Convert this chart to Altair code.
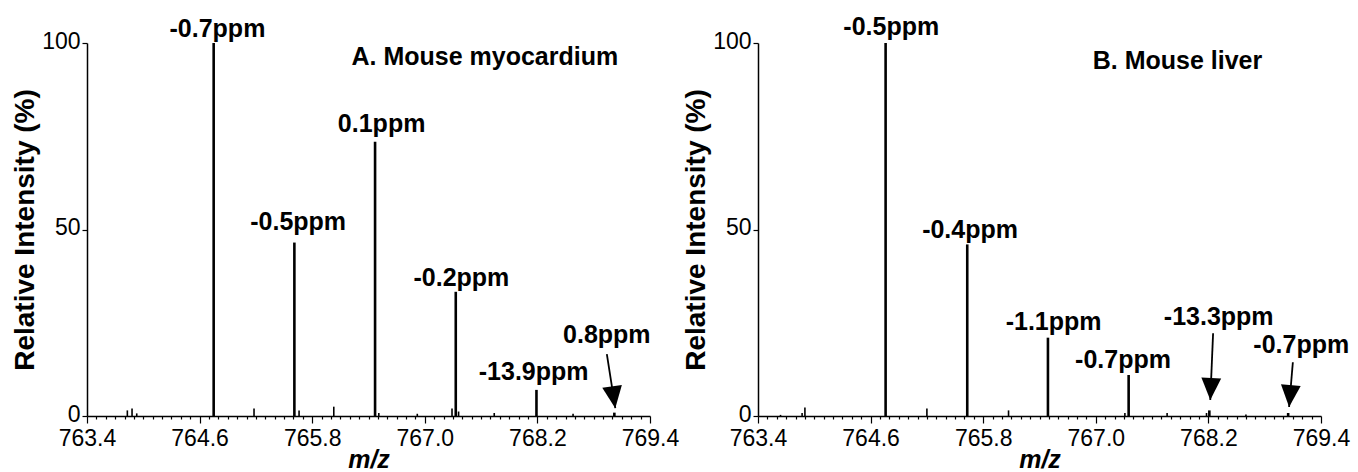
import altair as alt
import pandas as pd

# ---------------- Panel A: Mouse myocardium ----------------
a_peak_mz = [764.75, 765.61, 766.47, 767.33, 768.19, 769.02]
a_peak_int = [100.0, 46.5, 73.5, 33.3, 7.0, 0.9]
a_minor_mz = [763.83, 763.88, 763.93, 765.18, 765.66, 766.03, 766.51, 766.92, 767.29, 767.36, 767.74, 768.58]
a_minor_int = [1.5, 2.0, 0.7, 2.0, 1.5, 2.5, 0.8, 0.6, 2.0, 1.2, 0.8, 0.6]
a_label_text = ["-0.7ppm", "-0.5ppm", "0.1ppm", "-0.2ppm", "-13.9ppm", "0.8ppm"]
a_label_mz = [764.79, 765.65, 766.54, 767.39, 768.16, 768.94]
a_label_y = [103.8, 52.1, 78.4, 36.9, 11.7, 21.7]
a_title = ["A. Mouse myocardium"]
a_title_mz = [767.64]
a_title_y = [96.2]
a_arrow_mz = [768.94]
a_arrow_y = [16.6]
a_arrow_mz2 = [769.03]
a_arrow_y2 = [2.1]
a_arrow_angle = [351.6]

# ---------------- Panel B: Mouse liver ----------------
b_peak_mz = [764.76, 765.63, 766.49, 767.35, 768.21, 769.05]
b_peak_int = [100.0, 46.0, 21.0, 11.0, 1.5, 0.8]
b_minor_mz = [763.64, 763.87, 763.90, 765.20, 766.07, 767.31, 767.76, 768.18, 768.60]
b_minor_int = [0.3, 0.8, 2.3, 2.0, 1.5, 0.8, 0.8, 0.8, 0.4]
b_label_text = ["-0.5ppm", "-0.4ppm", "-1.1ppm", "-0.7ppm", "-13.3ppm", "-0.7ppm"]
b_label_mz = [764.82, 765.66, 766.55, 767.29, 768.31, 769.19]
b_label_y = [104.2, 50.0, 25.1, 15.0, 26.5, 19.0]
b_title = ["B. Mouse liver"]
b_title_mz = [767.87]
b_title_y = [95.3]
b_arrow_mz = [768.25, 769.10]
b_arrow_y = [22.2, 14.4]
b_arrow_mz2 = [768.22, 769.06]
b_arrow_y2 = [4.3, 2.4]
b_arrow_angle = [2.6, 4.5]

# axis ticks
x_major = [763.4, 764.6, 765.8, 767.0, 768.2, 769.4]
x_ticks = [round(763.4 + 0.1 * k, 1) for k in range(61)]
y_ticks = [0, 50, 100]

FONT = "Liberation Sans"
MAJOR_TEST = "abs((datum.value - 763.4) / 1.2 - round((datum.value - 763.4) / 1.2)) < 0.01"
HEAD = "M-0.9,-2L0.9,-2L0,0Z"

XSCALE = alt.Scale(domain=[763.4, 769.4], nice=False, zero=False)
YSCALE = alt.Scale(domain=[0, 100], nice=False, zero=True)
XAXIS = alt.Axis(
    values=x_ticks,
    labelExpr=f"({MAJOR_TEST}) ? format(datum.value, '.1f') : ''",
    tickSize={"condition": {"test": MAJOR_TEST, "value": 7}, "value": 3},
    labelFlush=False, labelOverlap=False, labelPadding=4,
    labelFontSize=23, labelFont=FONT, labelColor="black",
    domainColor="black", domainWidth=1.5, tickColor="black", tickWidth=1.2,
    grid=False, title="m/z", titleFont=FONT, titleFontSize=25,
    titleFontStyle="italic", titleFontWeight="bold", titleColor="black",
    titlePadding=-3,
)
YAXIS = alt.Axis(
    values=y_ticks, format="d", tickSize=5, labelPadding=2, labelOffset=-2,
    labelFontSize=23, labelFont=FONT, labelColor="black",
    domainColor="black", domainWidth=1.5, tickColor="black", tickWidth=1.2,
    grid=False, title="Relative Intensity (%)", titleFont=FONT,
    titleFontSize=28, titleFontWeight="bold", titleColor="black",
    titlePadding=2, minExtent=46, maxExtent=46,
)


def X(f):
    return alt.X(f, scale=XSCALE, axis=XAXIS)


def Y(f):
    return alt.Y(f, scale=YSCALE, axis=YAXIS)


def panel(peak_mz, peak_int, minor_mz, minor_int, lab_text, lab_mz, lab_y,
          title, title_mz, title_y, ar_mz, ar_y, ar_mz2, ar_y2, ar_angle):
    peaks = alt.Chart(pd.DataFrame({"mz": peak_mz, "i": peak_int})).mark_rule(
        color="black", strokeWidth=2.6
    ).encode(x=X("mz:Q"), y=Y("i:Q"), y2=alt.datum(0))
    minor = alt.Chart(pd.DataFrame({"mz": minor_mz, "i": minor_int})).mark_rule(
        color="black", strokeWidth=1.6
    ).encode(x=X("mz:Q"), y=Y("i:Q"), y2=alt.datum(0))
    labels = alt.Chart(pd.DataFrame({"mz": lab_mz, "i": lab_y, "t": lab_text})).mark_text(
        font=FONT, fontSize=25, fontWeight="bold", color="black",
        align="center", baseline="middle"
    ).encode(x=X("mz:Q"), y=Y("i:Q"), text="t:N")
    ttl = alt.Chart(pd.DataFrame({"mz": title_mz, "i": title_y, "t": title})).mark_text(
        font=FONT, fontSize=25, fontWeight="bold", color="black",
        align="center", baseline="middle"
    ).encode(x=X("mz:Q"), y=Y("i:Q"), text="t:N")
    adf = pd.DataFrame({"mz": ar_mz, "i": ar_y, "mz2": ar_mz2, "i2": ar_y2, "a": ar_angle})
    ashaft = alt.Chart(adf).mark_rule(color="black", strokeWidth=1.8).encode(
        x=X("mz:Q"), x2="mz2:Q", y=Y("i:Q"), y2="i2:Q"
    )
    hdf = pd.DataFrame({"mz": ar_mz2, "i": ar_y2, "a": ar_angle})
    ahead = alt.Chart(hdf).mark_point(
        shape=HEAD, size=484, filled=True, color="black", opacity=1, strokeWidth=0
    ).encode(x=X("mz:Q"), y=Y("i:Q"), angle=alt.Angle("a:Q", scale=None))
    return alt.layer(peaks, minor, labels, ttl, ashaft, ahead).properties(width=563, height=373)


left = panel(a_peak_mz, a_peak_int, a_minor_mz, a_minor_int, a_label_text, a_label_mz, a_label_y,
             a_title, a_title_mz, a_title_y, a_arrow_mz, a_arrow_y, a_arrow_mz2, a_arrow_y2, a_arrow_angle)
right = panel(b_peak_mz, b_peak_int, b_minor_mz, b_minor_int, b_label_text, b_label_mz, b_label_y,
              b_title, b_title_mz, b_title_y, b_arrow_mz, b_arrow_y, b_arrow_mz2, b_arrow_y2, b_arrow_angle)

chart = alt.hconcat(left, right, spacing=3).properties(
    padding={"left": 11, "top": 15, "right": 5, "bottom": 0},
    background="white",
).configure_view(stroke=None)

chart.save("out.html", embed_options={"renderer": "svg", "actions": False})
